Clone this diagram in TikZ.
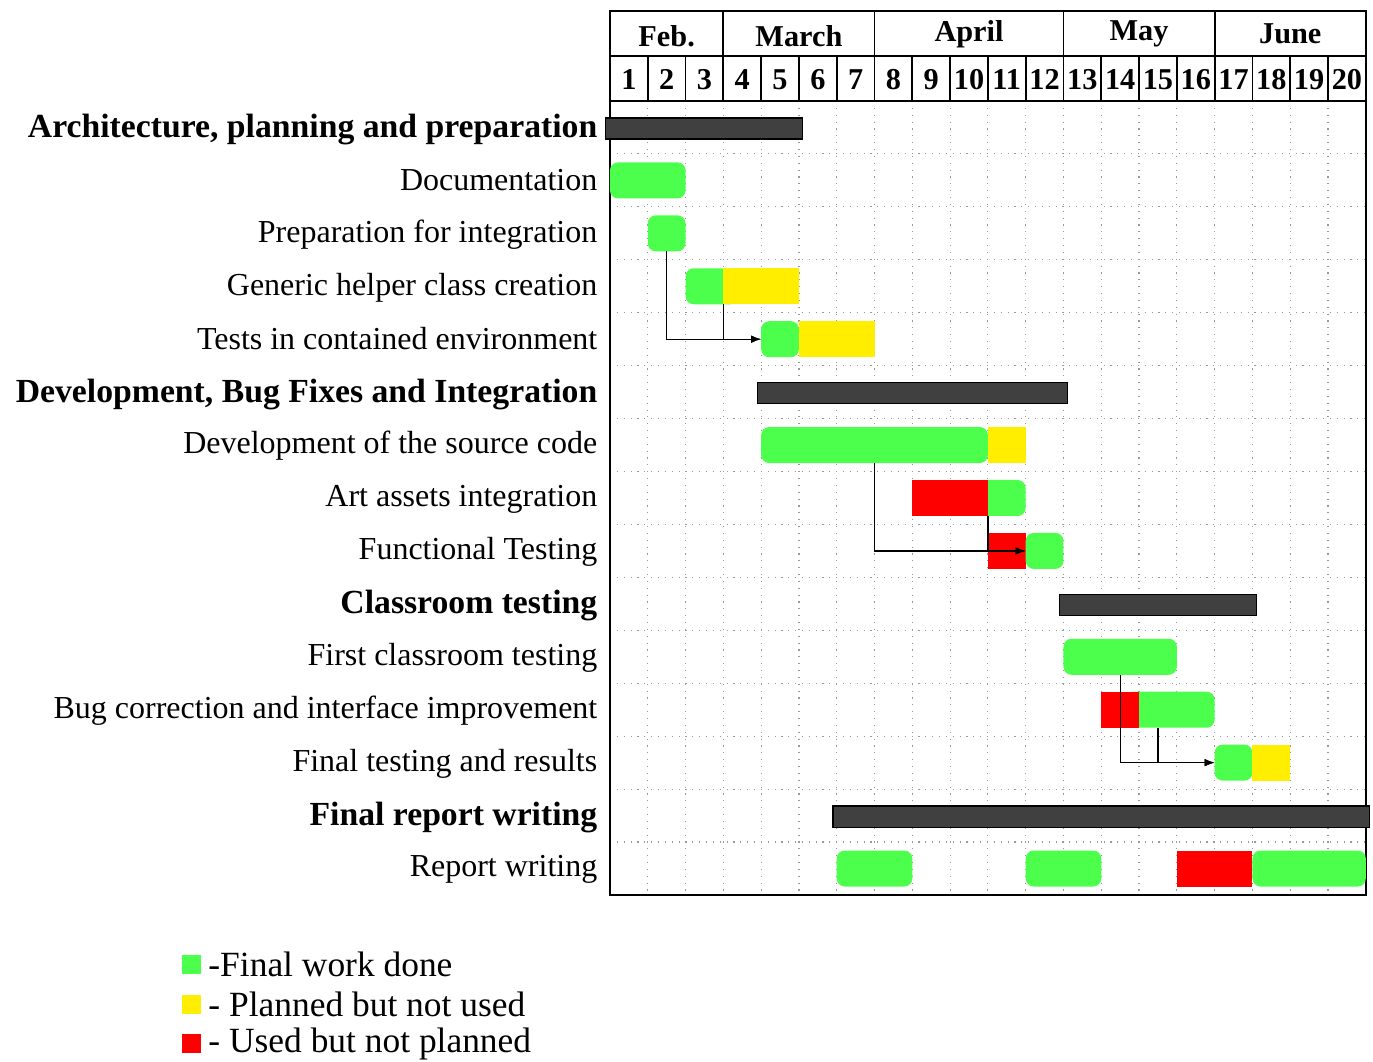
\documentclass[tikz,border=0pt]{standalone}
\usepackage{fontspec}
\setmainfont{Liberation Serif}
\usepackage{xcolor}
\usetikzlibrary{positioning,arrows.meta}

\definecolor{donegreen}{RGB}{77,255,77}
\definecolor{planyellow}{RGB}{255,238,0}
\definecolor{unplanred}{RGB}{255,0,0}
\definecolor{groupgray}{RGB}{64,64,64}

\newcommand{\colw}{13.23pt}
\newcommand{\rowh}{18.53pt}

\begin{document}
\begin{tikzpicture}[x=\colw, y=-\rowh,
  task/.style={anchor=east, inner sep=0pt, font=\fontsize{11.2}{13}\selectfont},
  grouptask/.style={anchor=east, inner sep=0pt, font=\fontsize{11.8}{14}\selectfont\bfseries},
  head/.style={font=\fontsize{10.6}{12}\selectfont\bfseries},
  bar/.style={inner sep=0pt, outer sep=0pt, anchor=west, minimum height=0.68*\rowh},
  span/.style={minimum width=#1*\colw},
  done/.style={bar, fill=donegreen, rounded corners=2.8pt},
  planned/.style={bar, fill=planyellow},
  unplanned/.style={bar, fill=unplanred},
  groupbar/.style={bar, fill=groupgray, draw=black, line width=0.5pt, minimum height=0.4*\rowh},
  link/.style={-{Latex[length=3.5pt, width=2.6pt]}, line width=0.45pt},
  gridline/.style={gray!80, line width=0.4pt, dotted},
  legendbox/.style={minimum size=6.6pt, inner sep=0pt},
  legendtext/.style={inner sep=0pt, font=\fontsize{12.4}{14}\selectfont}]

\useasboundingbox (-16.14,-1.908) rectangle (20.19,18.14);

% grid
\foreach \i in {1,...,19}
  \draw[gridline] (\i,0) -- (\i,15);
\foreach \j in {1,...,14}
  \draw[gridline] (0,\j) -- (20,\j);

% header
\draw[line width=0.6pt] (0,-1.7) rectangle (20,15);
\draw[line width=0.6pt] (0,-0.85) -- (20,-0.85);
\draw[line width=0.6pt] (0,0) -- (20,0);
\foreach \m in {3,7,12,16}
  \draw[line width=0.6pt] (\m,-1.7) -- (\m,-0.85);
\foreach \d in {1,...,19}
  \draw[line width=0.6pt] (\d,-0.85) -- (\d,0);

\node[head] (feb) at (1.5,-1.23) {Feb.};
\node[head] (march) at (5,-1.23) {March};
\node[head] (april) at (9.5,-1.27) {April};
\node[head] (may) at (14,-1.27) {May};
\node[head] (june) at (18,-1.27) {June};
\foreach \d in {1,...,20}
  \node[head] (day\d) at (\d-0.5,-0.41) {\d};

% labels
\node[grouptask] (archlbl) at (-0.32,0.54) {Architecture, planning and preparation};
\node[task] (doclbl) at (-0.32,1.5) {Documentation};
\node[task] (preplbl) at (-0.32,2.52) {Preparation for integration};
\node[task] (helperlbl) at (-0.32,3.52) {Generic helper class creation};
\node[task] (testslbl) at (-0.32,4.48) {Tests in contained environment};
\node[grouptask] (devlbl) at (-0.32,5.54) {Development, Bug Fixes and Integration};
\node[task] (codelbl) at (-0.32,6.52) {Development of the source code};
\node[task] (artlbl) at (-0.32,7.52) {Art assets integration};
\node[task] (funclbl) at (-0.32,8.52) {Functional Testing};
\node[grouptask] (classlbl) at (-0.32,9.54) {Classroom testing};
\node[task] (firstlbl) at (-0.32,10.52) {First classroom testing};
\node[task] (buglbl) at (-0.32,11.52) {Bug correction and interface improvement};
\node[task] (finallbl) at (-0.32,12.52) {Final testing and results};
\node[grouptask] (reportlbl) at (-0.32,13.54) {Final report writing};
\node[task] (writelbl) at (-0.32,14.52) {Report writing};

% group bars
\node[groupbar, span=5.22] (archbar) at (-0.12,0.52) {};
\node[groupbar, span=8.2] (devbar) at (3.9,5.52) {};
\node[groupbar, span=5.2] (classbar) at (11.9,9.52) {};
\node[groupbar, span=14.2] (reportbar) at (5.9,13.52) {};

% task bars
\node[done, span=2] (docbar) at (0,1.5) {};
\node[done, span=1] (prepbar) at (1,2.5) {};
\node[done, span=1.4] (helperbar) at (2,3.5) {};
\node[planned, span=2] (helperplan) at (3,3.5) {};
\node[done, span=1] (testsbar) at (4,4.5) {};
\node[planned, span=2] (testsplan) at (5,4.5) {};
\node[done, span=6] (codebar) at (4,6.5) {};
\node[planned, span=1] (codeplan) at (10,6.5) {};
\node[done, span=1.4] (artbar) at (9.6,7.5) {};
\node[unplanned, span=2] (artextra) at (8,7.5) {};
\node[unplanned, span=1] (funcextra) at (10,8.5) {};
\node[done, span=1] (funcbar) at (11,8.5) {};
\node[done, span=3] (firstbar) at (12,10.5) {};
\node[done, span=2.4] (bugbar) at (13.6,11.5) {};
\node[unplanned, span=1] (bugextra) at (13,11.5) {};
\node[done, span=1] (finalbar) at (16,12.5) {};
\node[planned, span=1] (finalplan) at (17,12.5) {};
\node[done, span=2] (writebarA) at (6,14.5) {};
\node[done, span=2] (writebarB) at (11,14.5) {};
\node[unplanned, span=2] (writeextra) at (15,14.5) {};
\node[done, span=3] (writebarC) at (17,14.5) {};

% links
\draw[link] (prepbar.south) |- (testsbar.west);
\draw[link] (helperplan.south west) |- (testsbar.west);
\draw[link] (codebar.south) |- (funcbar.west);
\draw[link] (artextra.south east) |- (funcbar.west);
\draw[link] (firstbar.south) |- (finalbar.west);
\draw[link] ([xshift=0.5*\colw]bugextra.south east) |- (finalbar.west);

% legend
\node[legendbox, fill=donegreen] (keydone) at (-11.07,16.32) {};
\node[legendbox, fill=planyellow, below=6.9pt of keydone] (keyplan) {};
\node[legendbox, fill=unplanred, below=6.7pt of keyplan] (keyextra) {};
\node[legendtext, right=2.2pt of keydone] (keydonetxt) {-Final work done};
\node[legendtext, right=2.2pt of keyplan] (keyplantxt) {- Planned but not used};
\node[legendtext, right=2.2pt of keyextra] (keyextratxt) {- Used but not planned};
\end{tikzpicture}
\end{document}
